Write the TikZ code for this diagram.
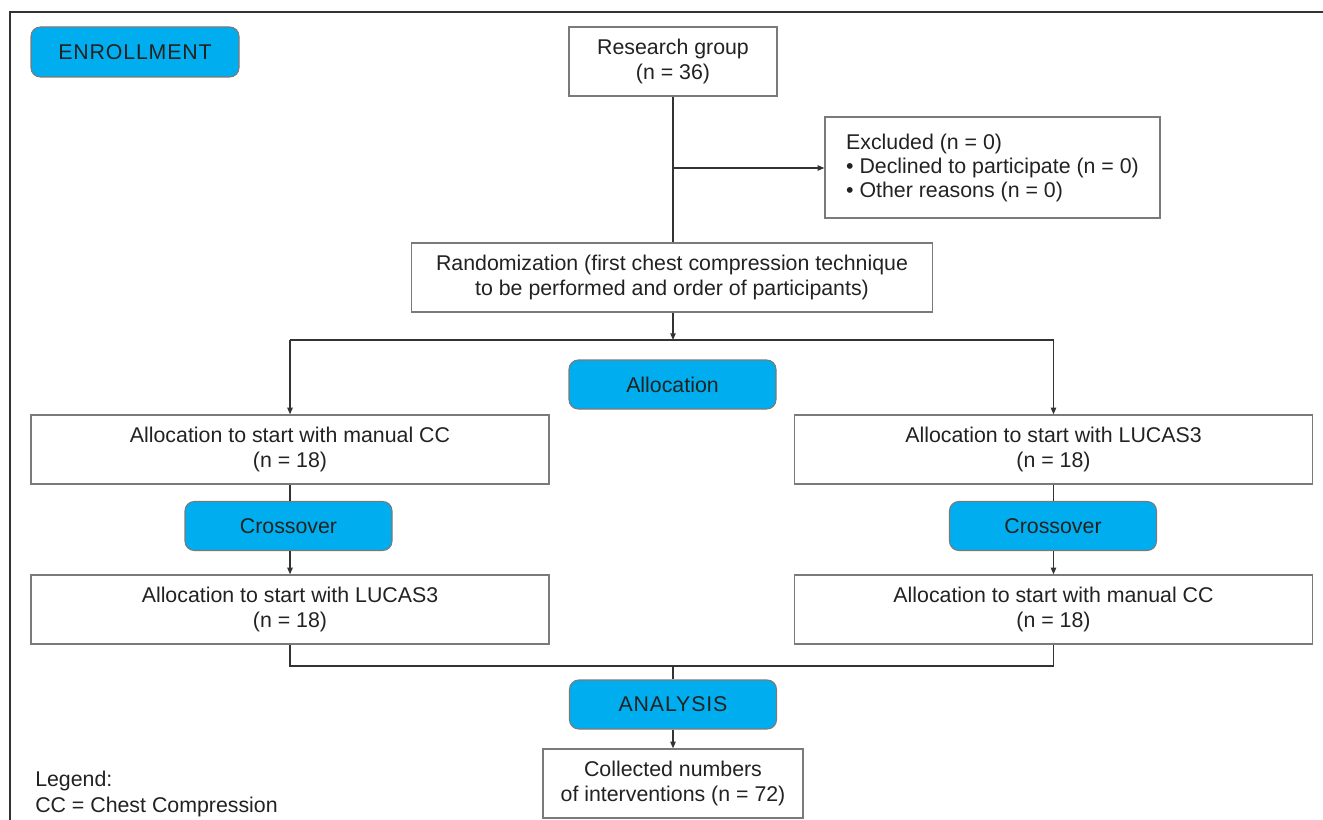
\documentclass[tikz,border=0pt]{standalone}
\usepackage{fontspec}
\setmainfont{Liberation Sans}
\usetikzlibrary{arrows.meta}
\definecolor{bluebox}{HTML}{00AEEF}
\definecolor{lineC}{HTML}{333333}
\definecolor{borderC}{HTML}{7A7A7A}
\definecolor{txt}{HTML}{222222}
\begin{document}
\begin{tikzpicture}[x=0.75pt,y=-0.75pt,
  every node/.style={font=\fontsize{16}{19}\selectfont, text=txt, inner sep=0pt},
  wbox/.style={draw=borderC, line width=1pt, fill=white, align=center, minimum height=51.75pt},
  bbox/.style={draw=borderC, line width=0.8pt, fill=bluebox, rounded corners=7pt, minimum width=155.25pt, minimum height=36.75pt},
  spaced/.style={font=\fontsize{16}{19}\selectfont\addfontfeature{LetterSpace=4}},
  conn/.style={draw=lineC, line width=1pt},
  arr/.style={conn, -{Triangle[length=5pt,width=4pt]}}
]
\useasboundingbox (0,0) rectangle (1323,820);
\fill[white] (0,0) rectangle (1323,820);
\draw[lineC, line width=1.5pt] (10,820) -- (10,12) -- (1323,12);

% nodes
\node[bbox, spaced, minimum width=156pt, minimum height=37.5pt] (enroll) at (135,52) {ENROLLMENT};
\node[wbox, minimum width=156pt] (research) at (673,61.5) {Research group\\(n = 36)};
\node[wbox, minimum width=251.25pt, minimum height=75.75pt, align=left, font=\fontsize{16}{18}\selectfont] (excl) at (992.5,167.5)
  {Excluded (n = 0)\\• Declined to participate (n = 0)\\• Other reasons (n = 0)};
\node[wbox, minimum width=390.75pt] (rand) at (672,277.5) {Randomization (first chest compression technique\\to be performed and order of participants)};
\node[bbox] (alloc) at (672.5,384.5) {Allocation};
\node[wbox, minimum width=388.5pt] (L1) at (290,449.5) {Allocation to start with manual CC\\(n = 18)};
\node[wbox, minimum width=388.5pt] (R1) at (1053.5,449.5) {Allocation to start with LUCAS3\\(n = 18)};
\node[bbox] (cL) at (288.5,526) {Crossover};
\node[bbox] (cR) at (1053,526) {Crossover};
\node[wbox, minimum width=388.5pt] (L2) at (290,609.5) {Allocation to start with LUCAS3\\(n = 18)};
\node[wbox, minimum width=388.5pt] (R2) at (1053.5,609.5) {Allocation to start with manual CC\\(n = 18)};
\node[bbox, spaced] (anal) at (673,704.5) {ANALYSIS};
\node[wbox, minimum width=195pt] (coll) at (673,783.5) {Collected numbers\\of interventions (n = 72)};
\node[anchor=west, align=left] (legend) at (35,794) {Legend:\\CC = Chest Compression};

% coordinates
\coordinate (split) at (673,168);
\coordinate (hb) at (673,340);
\coordinate (hbL) at (290,340);
\coordinate (hbR) at (1053.5,340);
\coordinate (jn) at (673,666);

% connectors
\draw[conn] (research.south) -- (rand.north -| research.south);
\draw[arr] (split) -- (excl.west |- split);
\draw[arr] (rand.south -| hb) -- (hb);
\draw[conn] (hbL) -- (hbR);
\draw[arr] (hbL) -- (L1.north);
\draw[arr] (hbR) -- (R1.north);
\draw[conn] (L1.south) -- (L1.south |- cL.north);
\draw[arr] (L1.south |- cL.south) -- (L2.north);
\draw[conn] (R1.south) -- (R1.south |- cR.north);
\draw[arr] (R1.south |- cR.south) -- (R2.north);
\draw[conn] (L2.south) |- (jn) -| (R2.south);
\draw[conn] (jn) -- (anal.north -| jn);
\draw[arr] (anal.south -| jn) -- (coll.north -| jn);
\end{tikzpicture}
\end{document}
